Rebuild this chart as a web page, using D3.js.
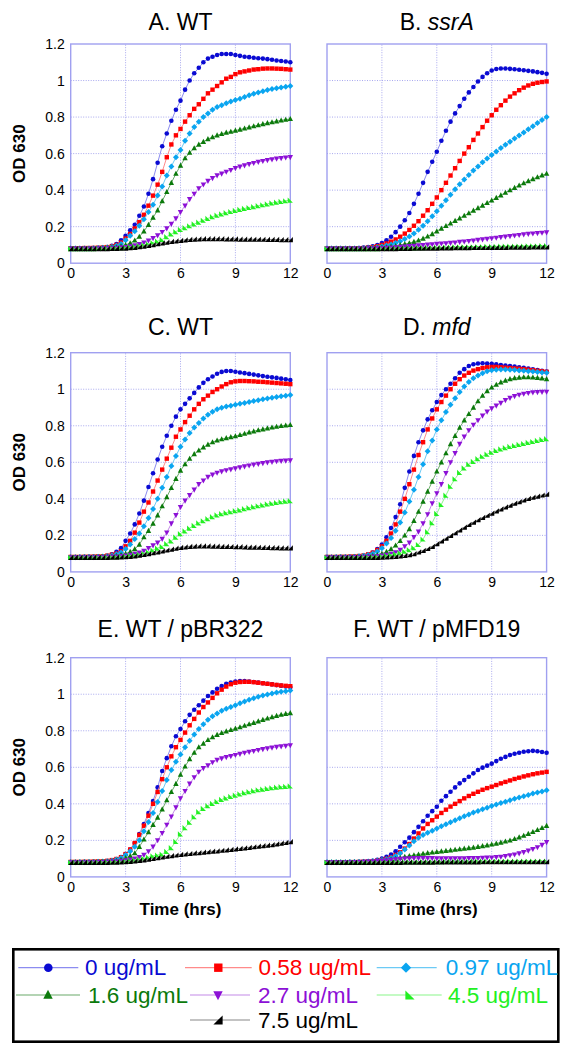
<!DOCTYPE html>
<html><head><meta charset="utf-8">
<script src="https://cdn.jsdelivr.net/npm/d3@7"></script>
<style>body{margin:0;background:#fff}svg{display:block}</style>
</head><body>
<script>
// ---- categories / ticks ----
const hours = [0,0.25,0.5,0.75,1,1.25,1.5,1.75,2,2.25,2.5,2.75,3,3.25,3.5,3.75,4,4.25,4.5,4.75,5,5.25,5.5,5.75,6,6.25,6.5,6.75,7,7.25,7.5,7.75,8,8.25,8.5,8.75,9,9.25,9.5,9.75,10,10.25,10.5,10.75,11,11.25,11.5,11.75,12];
const doses = ["0 ug/mL","0.58 ug/mL","0.97 ug/mL","1.6 ug/mL","2.7 ug/mL","4.5 ug/mL","7.5 ug/mL"];
const xTicks = [0,3,6,9,12];
const yTicks = [0,0.2,0.4,0.6,0.8,1,1.2];
const yTickLabels = ["0","0.2","0.4","0.6","0.8","1","1.2"];

// ---- Panel A: WT ----
const A_0 = [0.080,0.080,0.080,0.081,0.081,0.082,0.083,0.084,0.088,0.095,0.105,0.125,0.15,0.18,0.21,0.26,0.31,0.38,0.46,0.55,0.64,0.71,0.78,0.84,0.89,0.95,1.00,1.04,1.07,1.10,1.12,1.13,1.14,1.145,1.145,1.145,1.14,1.135,1.13,1.128,1.125,1.122,1.12,1.117,1.114,1.11,1.107,1.104,1.10];
const A_058 = [0.082,0.082,0.082,0.083,0.083,0.084,0.085,0.086,0.088,0.092,0.100,0.113,0.135,0.16,0.19,0.225,0.265,0.315,0.37,0.43,0.50,0.58,0.65,0.70,0.735,0.775,0.81,0.845,0.87,0.90,0.93,0.95,0.97,0.99,1.01,1.02,1.035,1.045,1.05,1.055,1.06,1.062,1.065,1.066,1.066,1.065,1.064,1.062,1.06];
const A_097 = [0.080,0.080,0.080,0.081,0.081,0.082,0.083,0.084,0.086,0.089,0.095,0.105,0.125,0.15,0.175,0.205,0.24,0.28,0.32,0.37,0.42,0.48,0.53,0.58,0.62,0.67,0.71,0.745,0.775,0.80,0.82,0.84,0.855,0.865,0.875,0.885,0.893,0.90,0.91,0.92,0.928,0.935,0.942,0.948,0.953,0.958,0.962,0.966,0.97];
const A_16 = [0.080,0.080,0.080,0.080,0.080,0.081,0.081,0.082,0.083,0.085,0.088,0.093,0.10,0.11,0.125,0.145,0.175,0.21,0.25,0.29,0.34,0.39,0.44,0.49,0.535,0.575,0.605,0.63,0.65,0.665,0.68,0.69,0.70,0.708,0.715,0.72,0.726,0.732,0.738,0.744,0.75,0.756,0.762,0.767,0.772,0.777,0.782,0.786,0.79];
const A_27 = [0.080,0.080,0.080,0.080,0.080,0.080,0.081,0.081,0.082,0.083,0.084,0.086,0.088,0.092,0.097,0.104,0.113,0.124,0.137,0.152,0.17,0.19,0.215,0.245,0.28,0.315,0.35,0.38,0.41,0.43,0.45,0.465,0.48,0.49,0.50,0.51,0.52,0.528,0.535,0.542,0.548,0.554,0.559,0.564,0.568,0.572,0.575,0.578,0.58];
const A_45 = [0.080,0.080,0.080,0.080,0.080,0.080,0.081,0.081,0.082,0.083,0.084,0.085,0.087,0.089,0.092,0.096,0.10,0.106,0.113,0.121,0.13,0.145,0.16,0.173,0.185,0.195,0.205,0.215,0.225,0.235,0.245,0.255,0.263,0.27,0.277,0.283,0.289,0.295,0.30,0.305,0.31,0.315,0.32,0.325,0.33,0.334,0.338,0.342,0.345];
const A_75 = [0.080,0.080,0.080,0.080,0.080,0.080,0.080,0.080,0.080,0.081,0.081,0.082,0.083,0.085,0.087,0.09,0.094,0.098,0.102,0.107,0.111,0.115,0.119,0.122,0.125,0.128,0.13,0.132,0.133,0.134,0.134,0.134,0.134,0.134,0.133,0.133,0.133,0.132,0.132,0.132,0.131,0.131,0.131,0.13,0.13,0.13,0.129,0.129,0.129];

// ---- Panel B: ssrA ----
const B_0 = [0.080,0.080,0.080,0.080,0.080,0.081,0.082,0.083,0.085,0.088,0.093,0.10,0.11,0.125,0.145,0.17,0.20,0.235,0.275,0.325,0.38,0.44,0.50,0.555,0.61,0.67,0.725,0.775,0.82,0.86,0.90,0.935,0.965,0.995,1.02,1.04,1.055,1.063,1.066,1.066,1.064,1.062,1.059,1.056,1.053,1.05,1.046,1.042,1.037];
const B_058 = [0.080,0.080,0.080,0.080,0.080,0.081,0.081,0.082,0.083,0.085,0.088,0.093,0.10,0.108,0.118,0.13,0.145,0.162,0.182,0.205,0.23,0.26,0.29,0.325,0.36,0.40,0.44,0.48,0.52,0.56,0.60,0.635,0.675,0.71,0.745,0.78,0.81,0.84,0.865,0.89,0.912,0.93,0.947,0.961,0.973,0.982,0.988,0.992,0.995];
const B_097 = [0.080,0.080,0.080,0.080,0.080,0.080,0.081,0.081,0.082,0.083,0.085,0.088,0.092,0.097,0.103,0.11,0.12,0.132,0.146,0.163,0.183,0.205,0.23,0.257,0.285,0.315,0.345,0.375,0.405,0.432,0.458,0.483,0.507,0.53,0.552,0.573,0.593,0.612,0.63,0.648,0.665,0.682,0.699,0.716,0.733,0.75,0.767,0.784,0.80];
const B_16 = [0.080,0.080,0.080,0.080,0.080,0.080,0.080,0.080,0.081,0.082,0.083,0.084,0.086,0.088,0.091,0.094,0.10,0.105,0.11,0.117,0.125,0.135,0.147,0.16,0.175,0.19,0.204,0.218,0.232,0.246,0.26,0.274,0.288,0.302,0.316,0.33,0.344,0.358,0.372,0.386,0.40,0.413,0.426,0.438,0.45,0.461,0.471,0.481,0.49];
const B_27 = [0.080,0.080,0.080,0.080,0.080,0.080,0.080,0.080,0.080,0.081,0.081,0.082,0.083,0.084,0.085,0.087,0.089,0.091,0.093,0.095,0.097,0.099,0.101,0.103,0.105,0.107,0.109,0.111,0.113,0.116,0.118,0.121,0.124,0.127,0.13,0.133,0.136,0.139,0.142,0.145,0.148,0.151,0.154,0.157,0.16,0.162,0.164,0.166,0.168];
const B_45 = [0.080,0.080,0.080,0.080,0.080,0.080,0.080,0.080,0.080,0.080,0.080,0.080,0.081,0.081,0.082,0.082,0.083,0.083,0.084,0.084,0.085,0.085,0.086,0.086,0.087,0.087,0.088,0.088,0.089,0.089,0.09,0.09,0.09,0.091,0.091,0.092,0.092,0.092,0.093,0.093,0.093,0.094,0.094,0.094,0.095,0.095,0.095,0.096,0.096];
const B_75 = [0.080,0.080,0.080,0.080,0.080,0.080,0.080,0.080,0.080,0.080,0.080,0.080,0.080,0.080,0.080,0.080,0.081,0.081,0.081,0.082,0.082,0.082,0.083,0.083,0.083,0.084,0.084,0.084,0.085,0.085,0.085,0.085,0.086,0.086,0.086,0.086,0.087,0.087,0.087,0.087,0.088,0.088,0.088,0.088,0.088,0.089,0.089,0.089,0.089];

// ---- Panel C: WT ----
const C_0 = [0.080,0.080,0.081,0.081,0.082,0.082,0.083,0.084,0.088,0.097,0.11,0.13,0.17,0.21,0.26,0.32,0.39,0.465,0.54,0.615,0.685,0.745,0.80,0.85,0.89,0.92,0.95,0.98,1.01,1.035,1.055,1.07,1.085,1.095,1.10,1.10,1.096,1.092,1.088,1.084,1.08,1.076,1.072,1.068,1.065,1.062,1.058,1.054,1.05];
const C_058 = [0.082,0.082,0.082,0.083,0.083,0.084,0.085,0.086,0.089,0.094,0.10,0.112,0.14,0.17,0.215,0.27,0.33,0.38,0.44,0.50,0.56,0.62,0.68,0.74,0.78,0.82,0.855,0.89,0.92,0.945,0.965,0.985,1.0,1.015,1.028,1.038,1.043,1.045,1.045,1.044,1.043,1.041,1.04,1.038,1.036,1.034,1.032,1.03,1.028];
const C_097 = [0.080,0.080,0.081,0.081,0.082,0.082,0.083,0.084,0.086,0.09,0.096,0.106,0.125,0.15,0.18,0.21,0.25,0.295,0.345,0.40,0.46,0.52,0.58,0.635,0.685,0.725,0.76,0.79,0.815,0.84,0.86,0.877,0.89,0.898,0.905,0.91,0.915,0.92,0.925,0.93,0.935,0.94,0.945,0.949,0.953,0.957,0.961,0.965,0.968];
const C_16 = [0.080,0.080,0.080,0.080,0.080,0.081,0.081,0.082,0.083,0.085,0.088,0.093,0.10,0.11,0.125,0.15,0.19,0.225,0.265,0.31,0.36,0.41,0.46,0.51,0.555,0.59,0.62,0.645,0.665,0.682,0.697,0.71,0.72,0.727,0.733,0.738,0.743,0.75,0.757,0.764,0.77,0.776,0.781,0.786,0.791,0.795,0.799,0.802,0.805];
const C_27 = [0.080,0.080,0.080,0.080,0.080,0.080,0.081,0.081,0.082,0.083,0.084,0.086,0.089,0.093,0.098,0.105,0.115,0.13,0.145,0.16,0.18,0.215,0.265,0.31,0.355,0.39,0.42,0.45,0.48,0.50,0.52,0.532,0.542,0.55,0.556,0.561,0.566,0.572,0.577,0.582,0.587,0.591,0.595,0.599,0.602,0.605,0.607,0.609,0.61];
const C_45 = [0.080,0.080,0.080,0.080,0.080,0.080,0.081,0.081,0.082,0.083,0.084,0.085,0.087,0.09,0.093,0.097,0.102,0.11,0.12,0.13,0.14,0.155,0.17,0.19,0.21,0.225,0.24,0.255,0.268,0.28,0.292,0.303,0.312,0.319,0.325,0.33,0.335,0.34,0.346,0.352,0.357,0.362,0.367,0.372,0.376,0.38,0.384,0.387,0.39];
const C_75 = [0.080,0.080,0.080,0.080,0.080,0.080,0.080,0.080,0.080,0.081,0.081,0.082,0.083,0.085,0.088,0.092,0.096,0.10,0.105,0.11,0.115,0.12,0.125,0.13,0.134,0.137,0.14,0.141,0.142,0.142,0.142,0.141,0.141,0.14,0.14,0.139,0.138,0.138,0.137,0.136,0.136,0.135,0.134,0.134,0.133,0.133,0.132,0.132,0.131];

// ---- Panel D: mfd ----
const D_0 = [0.080,0.080,0.080,0.081,0.081,0.082,0.083,0.084,0.088,0.095,0.106,0.125,0.15,0.19,0.24,0.30,0.37,0.46,0.55,0.635,0.71,0.775,0.835,0.885,0.93,0.968,1.0,1.03,1.06,1.09,1.11,1.127,1.137,1.141,1.142,1.141,1.139,1.136,1.133,1.13,1.127,1.124,1.12,1.117,1.113,1.109,1.105,1.101,1.097];
const D_058 = [0.082,0.082,0.082,0.083,0.083,0.084,0.085,0.087,0.09,0.096,0.105,0.12,0.14,0.17,0.21,0.26,0.33,0.40,0.48,0.56,0.64,0.71,0.78,0.84,0.89,0.93,0.965,1.0,1.03,1.055,1.075,1.09,1.102,1.11,1.116,1.12,1.122,1.122,1.12,1.118,1.116,1.114,1.112,1.11,1.107,1.104,1.101,1.098,1.095];
const D_097 = [0.080,0.080,0.081,0.081,0.082,0.082,0.083,0.085,0.088,0.093,0.10,0.112,0.13,0.155,0.185,0.225,0.27,0.325,0.385,0.45,0.52,0.59,0.66,0.72,0.78,0.83,0.875,0.915,0.95,0.985,1.015,1.04,1.06,1.075,1.088,1.098,1.104,1.107,1.108,1.108,1.107,1.105,1.103,1.101,1.099,1.097,1.094,1.092,1.09];
const D_16 = [0.080,0.080,0.080,0.080,0.080,0.081,0.081,0.082,0.083,0.085,0.088,0.093,0.10,0.11,0.125,0.145,0.17,0.20,0.235,0.28,0.33,0.385,0.44,0.495,0.55,0.60,0.65,0.70,0.745,0.79,0.83,0.865,0.90,0.935,0.965,0.99,1.01,1.025,1.038,1.048,1.056,1.061,1.064,1.066,1.066,1.065,1.063,1.06,1.056];
const D_27 = [0.080,0.080,0.080,0.080,0.080,0.080,0.081,0.081,0.082,0.083,0.084,0.086,0.089,0.093,0.099,0.107,0.12,0.14,0.16,0.19,0.22,0.265,0.315,0.375,0.43,0.48,0.54,0.60,0.65,0.70,0.74,0.775,0.805,0.83,0.855,0.877,0.895,0.91,0.925,0.94,0.952,0.962,0.969,0.975,0.979,0.982,0.984,0.985,0.986];
const D_45 = [0.080,0.080,0.080,0.080,0.080,0.080,0.081,0.081,0.082,0.083,0.084,0.085,0.087,0.09,0.094,0.099,0.105,0.113,0.122,0.133,0.15,0.18,0.22,0.27,0.32,0.37,0.42,0.47,0.51,0.545,0.57,0.59,0.605,0.62,0.633,0.645,0.655,0.665,0.673,0.68,0.687,0.692,0.698,0.703,0.709,0.714,0.72,0.725,0.73];
const D_75 = [0.080,0.080,0.080,0.080,0.080,0.080,0.080,0.080,0.080,0.080,0.080,0.080,0.081,0.082,0.083,0.085,0.088,0.091,0.095,0.10,0.11,0.118,0.128,0.14,0.155,0.17,0.185,0.2,0.215,0.23,0.245,0.26,0.273,0.286,0.298,0.31,0.322,0.334,0.345,0.356,0.366,0.376,0.385,0.394,0.402,0.409,0.415,0.421,0.426];

// ---- Panel E: WT / pBR322 ----
const E_0 = [0.080,0.080,0.080,0.081,0.081,0.082,0.083,0.084,0.086,0.09,0.097,0.108,0.125,0.15,0.185,0.235,0.29,0.35,0.415,0.49,0.58,0.65,0.715,0.77,0.81,0.852,0.887,0.915,0.94,0.965,0.99,1.01,1.03,1.045,1.057,1.064,1.07,1.072,1.072,1.07,1.067,1.064,1.06,1.057,1.054,1.05,1.047,1.043,1.04];
const E_058 = [0.082,0.082,0.082,0.083,0.083,0.084,0.085,0.086,0.088,0.092,0.098,0.108,0.125,0.15,0.185,0.23,0.28,0.335,0.40,0.465,0.535,0.60,0.66,0.71,0.75,0.79,0.83,0.865,0.90,0.93,0.955,0.98,1.005,1.025,1.042,1.055,1.063,1.067,1.068,1.068,1.066,1.063,1.06,1.057,1.054,1.051,1.048,1.046,1.044];
const E_097 = [0.080,0.080,0.081,0.081,0.082,0.082,0.083,0.084,0.086,0.089,0.095,0.104,0.12,0.14,0.165,0.20,0.25,0.30,0.35,0.41,0.47,0.53,0.585,0.63,0.67,0.71,0.745,0.78,0.81,0.835,0.86,0.88,0.895,0.91,0.92,0.93,0.94,0.95,0.96,0.97,0.978,0.986,0.993,0.999,1.004,1.009,1.013,1.017,1.02];
const E_16 = [0.080,0.080,0.080,0.080,0.080,0.081,0.081,0.082,0.083,0.085,0.088,0.094,0.103,0.115,0.13,0.165,0.205,0.245,0.285,0.325,0.37,0.42,0.465,0.51,0.56,0.605,0.645,0.68,0.71,0.73,0.75,0.765,0.778,0.788,0.797,0.805,0.812,0.82,0.828,0.836,0.844,0.852,0.86,0.868,0.875,0.882,0.888,0.893,0.897];
const E_27 = [0.080,0.080,0.080,0.080,0.080,0.080,0.081,0.081,0.082,0.083,0.085,0.087,0.09,0.095,0.10,0.108,0.12,0.14,0.165,0.20,0.24,0.285,0.33,0.38,0.43,0.47,0.51,0.545,0.575,0.595,0.61,0.627,0.64,0.648,0.655,0.661,0.667,0.673,0.679,0.684,0.689,0.694,0.699,0.703,0.707,0.711,0.714,0.717,0.72];
const E_45 = [0.080,0.080,0.080,0.080,0.080,0.080,0.081,0.081,0.082,0.083,0.084,0.085,0.087,0.09,0.093,0.097,0.102,0.108,0.115,0.12,0.125,0.14,0.16,0.195,0.235,0.27,0.30,0.33,0.357,0.375,0.39,0.403,0.414,0.424,0.433,0.441,0.448,0.455,0.461,0.467,0.472,0.477,0.481,0.485,0.488,0.491,0.494,0.496,0.498];
const E_75 = [0.080,0.080,0.080,0.080,0.080,0.080,0.080,0.080,0.080,0.081,0.081,0.082,0.083,0.085,0.087,0.09,0.093,0.097,0.101,0.105,0.109,0.113,0.117,0.12,0.123,0.126,0.128,0.131,0.133,0.136,0.138,0.141,0.143,0.146,0.148,0.151,0.153,0.156,0.159,0.162,0.165,0.168,0.171,0.174,0.177,0.181,0.185,0.189,0.193];

// ---- Panel F: WT / pMFD19 ----
const F_0 = [0.080,0.080,0.080,0.080,0.080,0.081,0.081,0.082,0.083,0.085,0.088,0.093,0.10,0.11,0.122,0.14,0.165,0.19,0.215,0.245,0.274,0.305,0.335,0.36,0.384,0.417,0.442,0.466,0.49,0.512,0.53,0.548,0.567,0.585,0.598,0.609,0.62,0.634,0.647,0.657,0.667,0.674,0.68,0.685,0.688,0.69,0.688,0.684,0.68];
const F_058 = [0.080,0.080,0.080,0.080,0.080,0.081,0.081,0.082,0.083,0.084,0.086,0.089,0.093,0.099,0.107,0.12,0.135,0.155,0.18,0.21,0.238,0.265,0.29,0.31,0.33,0.35,0.368,0.385,0.40,0.415,0.43,0.443,0.455,0.466,0.477,0.486,0.494,0.503,0.512,0.52,0.528,0.536,0.543,0.55,0.556,0.562,0.567,0.571,0.575];
const F_097 = [0.080,0.080,0.080,0.080,0.080,0.081,0.081,0.082,0.083,0.084,0.086,0.088,0.092,0.097,0.104,0.115,0.13,0.15,0.172,0.195,0.215,0.23,0.242,0.253,0.265,0.277,0.288,0.299,0.31,0.321,0.332,0.342,0.352,0.361,0.37,0.379,0.388,0.396,0.404,0.412,0.42,0.428,0.435,0.442,0.449,0.456,0.462,0.468,0.474];
const F_16 = [0.080,0.080,0.080,0.080,0.080,0.080,0.081,0.081,0.082,0.083,0.084,0.086,0.088,0.091,0.095,0.10,0.105,0.11,0.115,0.119,0.123,0.127,0.131,0.134,0.137,0.14,0.143,0.146,0.149,0.152,0.155,0.158,0.161,0.165,0.169,0.173,0.178,0.183,0.188,0.194,0.20,0.208,0.217,0.226,0.236,0.246,0.257,0.268,0.28];
const F_27 = [0.080,0.080,0.080,0.080,0.080,0.080,0.081,0.081,0.082,0.083,0.084,0.086,0.088,0.09,0.093,0.096,0.098,0.10,0.101,0.102,0.102,0.102,0.102,0.102,0.101,0.101,0.101,0.101,0.101,0.101,0.101,0.102,0.102,0.103,0.104,0.105,0.106,0.108,0.11,0.113,0.118,0.122,0.128,0.135,0.143,0.152,0.162,0.175,0.19];
const F_45 = [0.080,0.080,0.080,0.080,0.080,0.080,0.080,0.080,0.080,0.080,0.080,0.080,0.081,0.081,0.082,0.082,0.082,0.083,0.083,0.083,0.083,0.084,0.084,0.084,0.084,0.084,0.085,0.085,0.085,0.085,0.085,0.085,0.086,0.086,0.086,0.086,0.086,0.086,0.086,0.087,0.087,0.087,0.087,0.087,0.087,0.087,0.087,0.087,0.087];
const F_75 = [0.080,0.080,0.080,0.080,0.080,0.080,0.080,0.080,0.080,0.080,0.080,0.080,0.080,0.080,0.080,0.080,0.080,0.081,0.081,0.081,0.081,0.081,0.081,0.081,0.082,0.082,0.082,0.082,0.082,0.082,0.082,0.082,0.082,0.082,0.083,0.083,0.083,0.083,0.083,0.083,0.083,0.083,0.083,0.083,0.083,0.083,0.084,0.084,0.084];

// ---- styling ----
const markerColors = ["#0a0ad2","#ff0000","#0aa5f0","#0b7a0b","#8c10d6","#22f022","#000000"];
const lineColors   = ["#8c8cf0","#ff8a8a","#6ccaf5","#6aaa6a","#c48ae8","#8af58a","#888888"];
const shapes = ["circle","square","diamond","up","down","flagR","flagL"];
const FONT = "'Liberation Sans', Arial, Helvetica, sans-serif";

const panels = [
  {pre:"A. ", it:"", post:"WT", data:[A_0,A_058,A_097,A_16,A_27,A_45,A_75], col:0,row:0},
  {pre:"B. ", it:"ssrA", post:"", data:[B_0,B_058,B_097,B_16,B_27,B_45,B_75], col:1,row:0},
  {pre:"C. ", it:"", post:"WT", data:[C_0,C_058,C_097,C_16,C_27,C_45,C_75], col:0,row:1},
  {pre:"D. ", it:"mfd", post:"", data:[D_0,D_058,D_097,D_16,D_27,D_45,D_75], col:1,row:1},
  {pre:"E. ", it:"", post:"WT / pBR322", data:[E_0,E_058,E_097,E_16,E_27,E_45,E_75], col:0,row:2},
  {pre:"F. ", it:"", post:"WT / pMFD19", data:[F_0,F_058,F_097,F_16,F_27,F_45,F_75], col:1,row:2}
];
const colX = [70.7, 327];
const rowY = [44, 352.7, 657.7];
const titleY = [30, 335, 637];
const PW = 219.6, PH = 219.2;

function shapePath(type, s){
  const h = s/2;
  switch(type){
    case "circle": return `M${-h},0A${h},${h} 0 1,0 ${h},0A${h},${h} 0 1,0 ${-h},0Z`;
    case "square": return `M${-h},${-h}H${h}V${h}H${-h}Z`;
    case "diamond": { const d=h*1.2; return `M0,${-d}L${d},0L0,${d}L${-d},0Z`; }
    case "up": return `M0,${-h*1.1}L${h},${h*0.8}L${-h},${h*0.8}Z`;
    case "down": return `M0,${h*1.1}L${h},${-h*0.8}L${-h},${-h*0.8}Z`;
    case "flagR": return `M${-h},${-h}L${-h},${h}L${h},${h}Z`;
    case "flagL": return `M${h},${-h}L${h},${h}L${-h},${h}Z`;
  }
}
const plotSize = [4.6,4.4,5.0,5.4,5.4,5.2,5.2];
const legSize  = [8.6,8.4,8.6,9.4,9.4,9.2,9.2];

const svg = d3.select("body").append("svg").attr("width",569).attr("height",1050)
  .style("font-family",FONT);

panels.forEach((p,pi)=>{
  const x0 = colX[p.col], y0 = rowY[p.row];
  const x = d3.scaleLinear().domain([0,12]).range([x0, x0+PW]);
  const y = d3.scaleLinear().domain([0,1.2]).range([y0+PH, y0]);
  const g = svg.append("g");

  // grid
  g.selectAll(".gx").data(xTicks.slice(1,-1)).enter().append("line")
    .attr("x1",d=>x(d)).attr("x2",d=>x(d)).attr("y1",y(0)).attr("y2",y(1.2))
    .attr("stroke","#a8a8ee").attr("stroke-width",1).attr("stroke-dasharray","1,1.5");
  g.selectAll(".gy").data(yTicks.slice(1,-1)).enter().append("line")
    .attr("y1",d=>y(d)).attr("y2",d=>y(d)).attr("x1",x(0)).attr("x2",x(12))
    .attr("stroke","#a8a8ee").attr("stroke-width",1).attr("stroke-dasharray","1,1.5");
  // frame
  g.append("rect").attr("x",x(0)).attr("y",y(1.2)).attr("width",x(12)-x(0)).attr("height",y(0)-y(1.2))
    .attr("fill","none").attr("stroke","#a0a0f0").attr("stroke-width",1.4);

  // x axis labels
  const xa = g.append("g").attr("transform",`translate(0,${y(0)})`)
    .call(d3.axisBottom(x).tickValues(xTicks).tickSize(0).tickPadding(5).tickFormat(d=>String(d)));
  xa.select(".domain").remove();
  xa.selectAll("text").attr("font-size",14).attr("font-family",FONT).attr("fill","#000");
  if(p.col===0){
    const ya = g.append("g").attr("transform",`translate(${x(0)},0)`)
      .call(d3.axisLeft(y).tickValues(yTicks).tickSize(0).tickPadding(6).tickFormat((d,i)=>yTickLabels[i]));
    ya.select(".domain").remove();
    ya.selectAll("text").attr("font-size",14).attr("font-family",FONT).attr("fill","#000");
    g.append("text").attr("transform",`translate(25,${(y(0)+y(1.2))/2}) rotate(-90)`)
      .attr("text-anchor","middle").attr("font-size",17).attr("font-weight","bold").text("OD 630");
  }
  if(p.row===2){
    g.append("text").attr("x",(x(0)+x(12))/2).attr("y",915).attr("text-anchor","middle")
      .attr("font-size",17).attr("font-weight","bold").text("Time (hrs)");
  }
  // title
  const t = g.append("text").attr("x",(x(0)+x(12))/2).attr("y",titleY[p.row])
    .attr("text-anchor","middle").attr("font-size",23);
  t.append("tspan").text(p.pre);
  if(p.it) t.append("tspan").attr("font-style","italic").text(p.it);
  if(p.post) t.append("tspan").text(p.post);

  // series
  const line = d3.line().x((d,i)=>x(hours[i])).y(d=>y(d));
  p.data.forEach((vals,si)=>{
    const sg = g.append("g");
    sg.append("path").datum(vals).attr("d",line).attr("fill","none")
      .attr("stroke",lineColors[si]).attr("stroke-width",1);
    sg.selectAll("path.m").data(vals).enter().append("path").attr("class","m")
      .attr("transform",(d,i)=>`translate(${x(hours[i])},${y(d)})`)
      .attr("d",shapePath(shapes[si],plotSize[si])).attr("fill",markerColors[si]);
  });
});

// legend
const legend = svg.append("g");
legend.append("rect").attr("x",13.3).attr("y",949.3).attr("width",545).attr("height",92.4)
  .attr("fill","#fff").attr("stroke","#000").attr("stroke-width",2.6);
const legRows = [967.7,967.7,967.7,995,995,995,1020];
const legLine = [[18.3,78.3],[185,251.7],[376.7,436.7],[16,80],[190,250],[376.7,441.7],[190,250]];
const legMark = [48.3,218.3,406,48,218,410,218];
const legText = [85,258.5,445.7,88,258,448,258];
doses.forEach((d,i)=>{
  const ry = legRows[i];
  legend.append("line").attr("x1",legLine[i][0]).attr("x2",legLine[i][1]).attr("y1",ry).attr("y2",ry)
    .attr("stroke",lineColors[i]).attr("stroke-width",1.2);
  legend.append("path").attr("transform",`translate(${legMark[i]},${ry})`)
    .attr("d",shapePath(shapes[i],legSize[i])).attr("fill",markerColors[i]);
  legend.append("text").attr("x",legText[i]).attr("y",ry+7.6).attr("font-size",22.5)
    .attr("fill",i===6?"#000":markerColors[i]).text(d);
});
</script>
</body></html>
